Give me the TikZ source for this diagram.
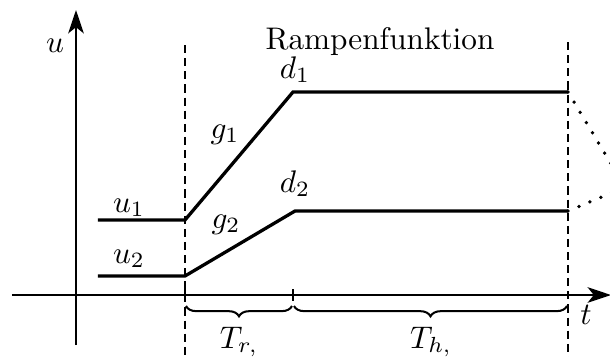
\documentclass[tikz,border=0pt]{standalone}
\usetikzlibrary{arrows.meta,decorations.pathreplacing}
\begin{document}
\begin{tikzpicture}[x=0.32pt,y=-0.32pt,
  axis/.style={line width=0.55pt},
  sig/.style={line width=1.05pt},
  guide/.style={line width=0.5pt,dash pattern=on 2.6pt off 1.6pt},
  cont/.style={line width=1.2pt,dash pattern=on 0pt off 3.8pt,line cap=round},
  tickmark/.style={line width=0.6pt},
  brc/.style={line width=0.65pt,decorate,decoration={brace,mirror,amplitude=3.3pt}},
  lbl/.style={inner sep=0pt,anchor=base}]
\useasboundingbox (0,0) rectangle (610,356);
% axes
\coordinate (xs) at (12,295);
\coordinate (xe) at (611,295);
\coordinate (ys) at (76,345);
\coordinate (ye) at (76,10);
\draw[axis,-{Stealth[length=7.5pt,width=5pt,inset=2pt]}] (xs) -- (xe);
\draw[axis,-{Stealth[length=7.5pt,width=5pt,inset=2pt]}] (ys) -- (ye);
% guides
\coordinate (g1t) at (185,45);
\coordinate (g1b) at (185,360);
\coordinate (g2t) at (568,42);
\coordinate (g2b) at (568,360);
\draw[guide] (g1t) -- (g1b);
\draw[guide] (g2t) -- (g2b);
% ticks
\coordinate (t1a) at (185,289); \coordinate (t1b) at (185,301);
\coordinate (t2a) at (293,289); \coordinate (t2b) at (293,301);
\draw[tickmark] (t1a) -- (t1b);
\draw[tickmark] (t2a) -- (t2b);
% signal 1
\coordinate (a0) at (98,220);
\coordinate (a1) at (185,220);
\coordinate (a2) at (293,92);
\coordinate (a3) at (568,92);
\coordinate (a4) at (616,172);
\draw[sig] (a0) -- (a1) -- (a2) -- (a3);
\draw[cont] (a3) -- (a4);
% signal 2
\coordinate (b0) at (98,276);
\coordinate (b1) at (185,276);
\coordinate (b2) at (295,211);
\coordinate (b3) at (568,211);
\coordinate (b4) at (616,191);
\draw[sig] (b0) -- (b1) -- (b2) -- (b3);
\draw[cont] (b3) -- (b4);
% braces
\coordinate (br1a) at (186,306);
\coordinate (br1b) at (292,306);
\coordinate (br2a) at (294,306);
\coordinate (br2b) at (567,306);
\draw[brc] (br1a) -- (br1b);
\draw[brc] (br2a) -- (br2b);
% labels
\node[lbl] (lu) at (55,52) {$u$};
\node[lbl] (lt) at (586,324) {$t$};
\node[lbl] (lu1) at (129,212) {$u_1$};
\node[lbl] (lu2) at (129,263) {$u_2$};
\node[lbl] (lg1) at (225,138) {$g_1$};
\node[lbl] (lg2) at (226,228) {$g_2$};
\node[lbl] (ld1) at (295,78) {$d_1$};
\node[lbl] (ld2) at (295,192) {$d_2$};
\node[lbl] (title) at (380,49) {Rampenfunktion};
\node[lbl] (ltr) at (239,348) {$T_{r,}$};
\node[lbl] (lth) at (431,348) {$T_{h,}$};
\end{tikzpicture}
\end{document}
